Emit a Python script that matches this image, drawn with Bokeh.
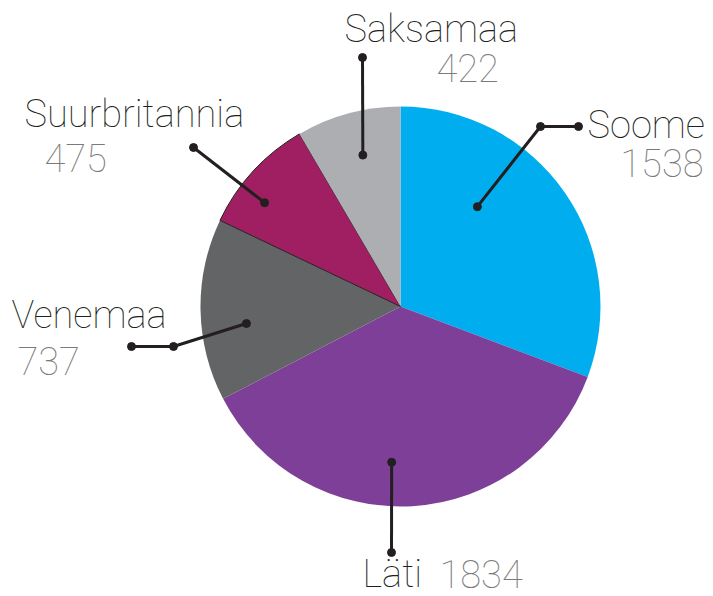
import math
from bokeh.plotting import figure
from bokeh.models import Range1d, ColumnDataSource
from bokeh.core.properties import value
from bokeh.embed import file_html
from bokeh.resources import INLINE

# ---- data ----
countries = ["Soome", "Läti", "Venemaa", "Suurbritannia", "Saksamaa"]
counts = [1538, 1834, 737, 475, 422]
colors = ["#00AEEF", "#7E3F98", "#636466", "#A01F62", "#ADAEB2"]

# ---- layout ----
W, H = 713, 596
def Y(img_y):
    return H - img_y

CX, CY, R = 400, Y(306), 200
FONT = value("Roboto Thin")
FS = "38px"
DARK = "#231F20"
GRAY = "#7A7A7A"
TEXT_SHIFT = 13  # renderer places alphabetic baseline this much lower

p = figure(width=W, height=H, output_backend="svg", toolbar_location=None,
           x_range=Range1d(0, W), y_range=Range1d(0, H),
           min_border=0)
p.axis.visible = False
p.grid.visible = False
p.outline_line_color = None
p.background_fill_color = "white"
p.border_fill_color = "white"

total = sum(counts)
starts, ends, mids = [], [], []
cum = 0.0
for c in counts:
    a0 = math.pi / 2 - 2 * math.pi * cum / total
    cum += c
    a1 = math.pi / 2 - 2 * math.pi * cum / total
    starts.append(a1)
    ends.append(a0)
    mids.append((a0 + a1) / 2)

src = ColumnDataSource(dict(start=starts, end=ends, color=colors,
                            la=[0, 0, 0, 1, 0]))
p.wedge(x=CX, y=CY, radius=R, start_angle="start", end_angle="end",
        direction="anticlock", fill_color="color", line_color=DARK,
        line_alpha="la", line_width=1, source=src)

# inner anchor of each leader: angle offset (deg) and radius (layout)
ang_off = [17.7, -6.7, 5.3, 5.2, -1.2]
rad = [126, 156, 155, 171, 156]
# remaining leader points (image coords) per slice
rest = [
    [(540, 126), (578, 126)],
    [(391, 552)],
    [(173, 346), (131, 346)],
    [(193, 147)],
    [(362, 57)],
]
for i in range(len(countries)):
    a = mids[i] + math.radians(ang_off[i])
    x0 = CX + rad[i] * math.cos(a)
    y0 = CY + rad[i] * math.sin(a)
    xs = [x0] + [q[0] for q in rest[i]]
    ys = [y0] + [Y(q[1]) for q in rest[i]]
    p.line(xs, ys, line_color=DARK, line_width=3)
    p.scatter(xs, ys, size=8, color=DARK)

# labels: (name x, name baseline, value x, value baseline, value align) image coords
lab_pos = [
    (587, 137, 703, 175, "right"),
    (362, 586, 439, 586, "left"),
    (11, 327, 17, 373, "left"),
    (24, 126, 44, 170, "left"),
    (344, 41, 436, 80, "left"),
]
for i, name in enumerate(countries):
    nx, ny, vx, vy, va = lab_pos[i]
    p.text(x=[nx], y=[Y(ny - TEXT_SHIFT)], text=[name], text_font=FONT,
           text_font_size=FS, text_color=DARK, text_baseline="alphabetic",
           text_align="left")
    p.text(x=[vx], y=[Y(vy - TEXT_SHIFT)], text=[str(counts[i])], text_font=FONT,
           text_font_size=FS, text_color=GRAY, text_baseline="alphabetic",
           text_align=va)

open("out.html", "w").write(file_html(p, INLINE))
